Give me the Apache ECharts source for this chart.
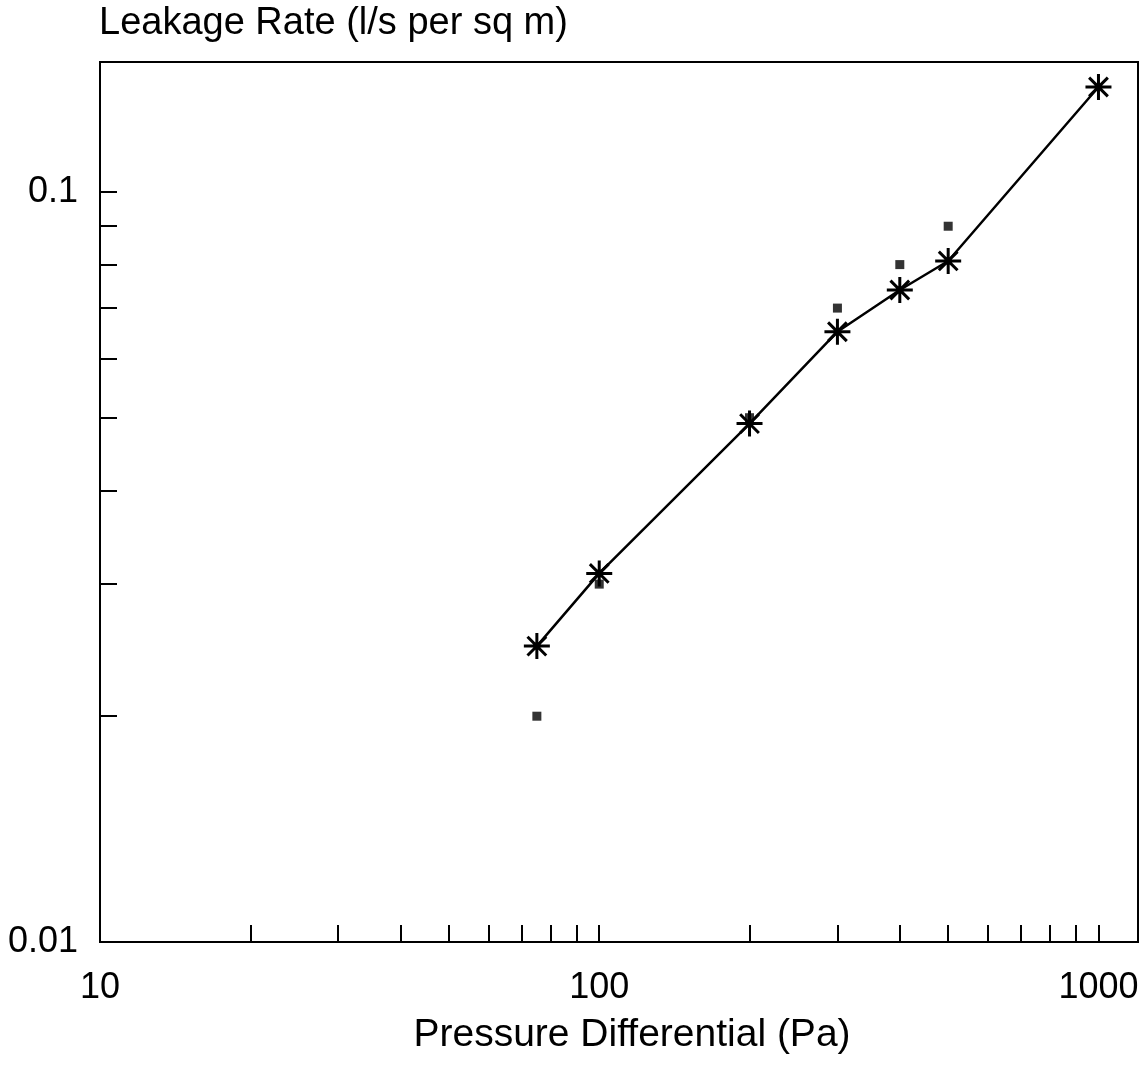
<!DOCTYPE html>
<html>
<head>
<meta charset="utf-8">
<script src="https://cdn.jsdelivr.net/npm/echarts@6/dist/echarts.min.js"></script>
<style>
html,body{margin:0;padding:0;background:#fff;}
#chart{width:1143px;height:1066px;}
</style>
</head>
<body>
<div id="chart"></div>
<script>
// Data
const pressure = [75, 100, 200, 300, 400, 500, 1000];
const fittedLeakage = [0.0248, 0.0310, 0.0491, 0.0651, 0.0740, 0.0809, 0.138];
const measuredPressure = [75, 100, 200, 300, 400, 500];
const measuredLeakage = [0.020, 0.030, 0.050, 0.070, 0.080, 0.090];

const xTickLabels = [10, 100, 1000];
const xTickValues = [10, 20, 30, 40, 50, 60, 70, 80, 90, 100, 200, 300, 400, 500, 600, 700, 800, 900, 1000];
const yTickLabels = [0.01, 0.1];
const yTickValues = [0.01, 0.02, 0.03, 0.04, 0.05, 0.06, 0.07, 0.08, 0.09, 0.1];

const FONT = '"Liberation Sans", Arial, Helvetica, sans-serif';
const chart = echarts.init(document.getElementById('chart'), null, {renderer: 'canvas'});

const starPath = 'path://M-1,0L1,0M0,-1L0,1M-0.72,-0.72L0.72,0.72M-0.72,0.72L0.72,-0.72';

chart.setOption({
  animation: false,
  backgroundColor: '#ffffff',
  title: {
    text: 'Leakage Rate (l/s per sq m)',
    left: 99,
    top: 5,
    padding: 0,
    textStyle: {fontFamily: FONT, fontSize: 38, fontWeight: 'normal', color: '#000'}
  },
  grid: {
    left: 100, right: 5, top: 62, bottom: 124,
    show: true, borderColor: '#000', borderWidth: 2, backgroundColor: 'transparent'
  },
  xAxis: {
    type: 'log',
    logBase: 10,
    min: 10,
    max: 1200,
    name: 'Pressure Differential (Pa)',
    nameLocation: 'middle',
    nameGap: 74,
    nameTextStyle: {fontFamily: FONT, fontSize: 39, color: '#000', padding: [0, 0, 0, 26]},
    axisLine: {show: true, lineStyle: {color: '#000', width: 2}},
    axisTick: {show: true, inside: true, length: 17, lineStyle: {color: '#000', width: 2}, customValues: xTickValues},
    axisLabel: {
      customValues: xTickLabels,
      formatter: v => String(v),
      fontFamily: FONT, fontSize: 36, color: '#000', margin: 28
    },
    splitLine: {show: false},
    minorTick: {show: false}
  },
  yAxis: {
    type: 'log',
    logBase: 10,
    min: 0.01,
    max: 0.149,
    axisLine: {show: true, lineStyle: {color: '#000', width: 2}},
    axisTick: {show: true, inside: true, length: 17, lineStyle: {color: '#000', width: 2}, customValues: yTickValues},
    axisLabel: {
      customValues: yTickLabels,
      formatter: v => (Math.abs(v - 0.01) < 1e-9 ? '0.01' : '0.1'),
      fontFamily: FONT, fontSize: 36, color: '#000', margin: 22
    },
    splitLine: {show: false},
    minorTick: {show: false}
  },
  series: [
    {
      type: 'line',
      data: pressure.map((p, i) => [p, fittedLeakage[i]]),
      symbol: starPath,
      symbolSize: 26,
      showSymbol: true,
      lineStyle: {color: '#000', width: 2.5},
      itemStyle: {color: 'rgba(0,0,0,0)', borderColor: '#000', borderWidth: 3},
      z: 3
    },
    {
      type: 'scatter',
      data: measuredPressure.map((p, i) => [p, measuredLeakage[i]]),
      symbol: 'rect',
      symbolSize: 9,
      itemStyle: {color: '#000'},
      z: 4
    }
  ]
});
</script>
</body>
</html>
